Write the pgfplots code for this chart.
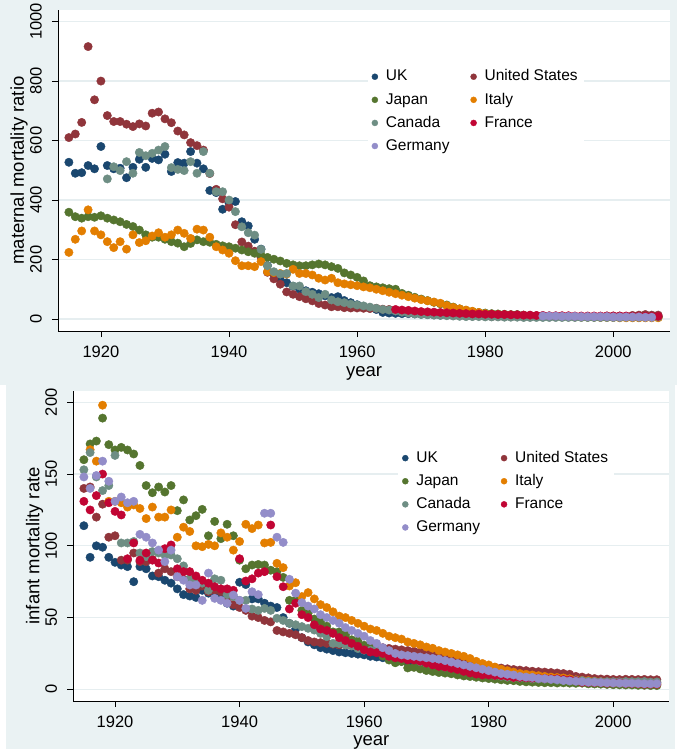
\documentclass[border=0pt]{standalone}
\usepackage{pgfplots}
\pgfplotsset{compat=1.18}
\usepackage{pgfplotstable}
\usepackage{fontspec}
\setmainfont{Liberation Sans}

\definecolor{bgc}{RGB}{234,242,243}
\definecolor{gridc}{RGB}{230,238,240}
\definecolor{cnavy}{RGB}{26,71,111}
\definecolor{cmaroon}{RGB}{144,53,59}
\definecolor{cgreen}{RGB}{85,117,47}
\definecolor{corange}{RGB}{227,126,0}
\definecolor{cteal}{RGB}{110,142,132}
\definecolor{ccran}{RGB}{193,5,52}
\definecolor{clav}{RGB}{147,141,201}

\pgfplotstableread{
year uk us jp it ca fr de
1915 527 610 359 224 nan nan nan
1916 490 622 344 268 nan nan nan
1917 492 661 339 296 nan nan nan
1918 516 916 344 367 nan nan nan
1919 505 737 342 296 nan nan nan
1920 580 800 347 283 nan nan nan
1921 516 684 339 260 471 nan nan
1922 505 664 333 240 512 nan nan
1923 507 664 327 260 499 nan nan
1924 475 655 318 235 529 nan nan
1925 510 647 311 283 490 nan nan
1926 537 656 299 257 560 nan nan
1927 510 649 283 263 549 nan nan
1928 540 692 275 279 557 nan nan
1929 535 696 275 290 568 nan nan
1930 554 673 268 275 580 nan nan
1931 496 660 260 283 509 nan nan
1932 526 632 255 299 503 nan nan
1933 524 619 243 288 499 nan nan
1934 563 593 254 271 529 nan nan
1935 524 583 266 302 490 nan nan
1936 505 568 260 299 563 nan nan
1937 432 489 258 275 490 nan nan
1938 425 436 251 243 428 nan nan
1939 369 404 246 232 428 nan nan
1940 390 376 243 221 400 nan nan
1941 395 317 238 196 361 nan nan
1942 327 259 232 179 310 nan nan
1943 313 245 226 179 290 nan nan
1944 268 228 221 176 282 nan nan
1945 235 207 215 193 234 nan nan
1946 180 157 207 159 179 nan nan
1947 150 135 201 156 159 nan nan
1948 132 117 195 153 151 nan nan
1949 122 91 187 151 153 nan nan
1950 110 83 182 167 111 nan nan
1951 100 75 179 153 111 nan nan
1952 95 68 179 153 92 nan nan
1953 90 61 182 148 83 nan nan
1954 85 52 185 137 72 nan nan
1955 78 47 182 131 83 nan nan
1956 72 41 176 137 64 nan nan
1957 75 41 170 122 58 nan nan
1958 62 38 155 118 55 nan nan
1959 55 37 148 115 50 nan nan
1960 48 37 140 112 47 nan nan
1961 42 36 128 108 44 nan nan
1962 38 35 112 105 40 nan nan
1963 32 36 108 100 36 nan nan
1964 22 33 105 95 32 nan nan
1965 20 32 102 90 30 nan nan
1966 19 29 100 85 27 32 nan
1967 18 28 86 80 23 30 nan
1968 18 25 80 75 20 29 nan
1969 17 22 73 70 17 27 nan
1970 16 22 67 65 15 25 nan
1971 15 19 62 61 14 24 nan
1972 14 19 56 57 13 23 nan
1973 13 15 51 53 12 22 nan
1974 13 15 47 45 11 21 nan
1975 12 13 40 39 10 20 nan
1976 12 12 34 34 9 19 nan
1977 11 11 29 30 8 18 nan
1978 11 10 25 26 8 17 nan
1979 11 10 22 22 8 17 nan
1980 10 9 20 18 7 16 nan
1981 10 8 18 16 7 16 nan
1982 10 8 17 15 7 15 nan
1983 9 8 16 14 6 15 nan
1984 9 8 15 13 6 14 nan
1985 9 8 15 12 6 14 nan
1986 9 7 13 11 5 13 nan
1987 9 7 12 10 5 13 nan
1988 9 8 11 9 5 12 nan
1989 8 8 10 9 5 12 10
1990 8 8 9 8 5 11 10
1991 8 8 9 8 5 11 10
1992 8 8 9 7 5 11 9
1993 8 8 8 7 5 11 9
1994 8 8 8 7 5 10 9
1995 8 7 7 6 5 10 8
1996 8 8 6 6 5 10 8
1997 7 8 6 6 5 10 8
1998 7 7 7 5 5 10 8
1999 7 10 6 5 5 10 8
2000 7 10 6 5 5 10 7
2001 7 10 6 4 5 10 7
2002 7 9 7 4 6 10 7
2003 7 12 6 4 6 9 7
2004 7 13 5 4 6 9 7
2005 7 15 5 4 6 9 6
2006 7 13 5 4 6 9 6
2007 7 13 6 4 7 9 nan
}\mmr

\pgfplotstableread{
year uk us jp it ca fr de
1915 114 140 160 nan 153 131 148
1916 92 141 171 167 165 125 140
1917 100 120 173 159 148 135 149
1918 99 129 189 198 138.5 150 159
1919 92 106 170.5 131 142 130 145
1920 88.5 107 166.8 131 163 124 131
1921 86.6 90 168.6 130 102 121.5 134
1922 85.5 90 166.8 127 102 91 130
1923 75 95 164 128.5 103 102 131
1924 85.5 89 156 126 95 90 108
1925 84 89 142 119 92.5 95 106
1926 79 90.6 137 127 96 90 102
1927 78.5 81 141 120 95 88 97
1928 76 84 137.5 120 93.6 98 89
1929 74 82 142 125 93.6 100.6 97
1930 70 78.5 124.5 106 91 84 78.5
1931 66 76.7 132 113 86 82 76
1932 65 70 118 110 77 82 72.7
1933 64 69 121 100 74 79 72.7
1934 69 72 125.4 99.4 74 76 62
1935 67 68 107 101 69 74 81
1936 66 69 117 100 77 71.5 63.4
1937 63 68 105 109 76 70 62
1938 60 62 115 106 66 70 60
1939 58 59 107 97 64.6 69 65.7
1940 74.6 57 90 103 62 91 62
1941 73 55 84 115 62 75.5 56.4
1942 63 51 86.6 112 56 77 68
1943 63 50 87 114.5 55 81 66
1944 60 48 86.6 102 56.4 82 122.7
1945 58 47 83 102.4 55 114.5 122.7
1946 57 41 82 87.8 49.5 78.5 106
1947 50 40 78 84.8 48 71.5 102.4
1948 46 39 62 72 46 56 76.7
1949 42 38 62 74.3 45 60 67
1950 36 36 55 64.6 43.7 52 60.4
1951 33 34 53 67.4 42.5 50 58
1952 31 33 49 63 41.3 45 56
1953 29 32.5 47 59 39 42 52
1954 28 32 44 57 36.7 41 50
1955 27 31.5 40 54 32 39 48
1956 26 31 40 51 31.9 36 46
1957 25.5 31 38 50 30.9 34 43
1958 25 30.5 34.5 48 30.2 32 41
1959 24.5 30.5 33.7 46 28.4 30 39
1960 24 30 30.7 44 27.3 27.5 37
1961 23 30 28.6 42 27.2 26 34
1962 22.5 29.5 26.4 41 27.6 25.5 32
1963 22 29 23.2 39 26.3 25 29
1964 21 28.5 20.4 37 24.7 23 27
1965 20 28 18.5 36 23.6 22 25
1966 19.6 27.5 19.3 35 23.1 21.5 24
1967 18.8 27 14.9 33 22 20.5 23.5
1968 18.8 26.5 15.3 32 20.8 20.4 23
1969 18.6 26 14.2 31 19.3 19.6 22.5
1970 18.5 25.5 13.1 29.5 18.8 18.2 22
1971 17.9 25 12.4 28.6 17.5 17 21.5
1972 17.5 24 11.7 27 17.1 16 21
1973 17.2 22.5 11.3 26 15.5 15.5 20
1974 16.8 21 10.8 25 15 14.6 19
1975 16 19.5 10 24 14.3 13.8 18
1976 14.5 18.5 9.3 23 13.5 12.5 17
1977 14.1 17.5 8.9 21.5 12.4 11.4 16
1978 13.3 16.8 8.4 19.5 12 10.6 15
1979 12.9 16.2 7.9 18 10.9 10 14
1980 12.1 15.8 7.5 17 10.4 10 13
1981 11.2 15.3 7.1 15.5 9.6 9.7 12
1982 11 14.8 6.6 14 9.1 9.5 11
1983 10.2 14.3 6.2 13 8.5 9.1 10.5
1984 9.6 13.8 6 12 8.1 8.3 10
1985 9.4 13.4 5.5 11 8 8.3 9
1986 9.5 13 5.2 10.5 7.9 8 8.5
1987 9.2 12.6 5 10 7.3 7.8 8.3
1988 9 12.3 4.8 9.5 7.2 7.8 7.6
1989 8.4 12 4.6 9 7.1 7.5 7.4
1990 7.9 11.7 4.6 8.5 6.8 7.3 7
1991 7.4 11.4 4.4 8.2 6.4 7.3 6.8
1992 6.6 11 4.5 7.9 6.1 6.8 6.2
1993 6.3 10.5 4.3 7.3 6.3 6.5 5.8
1994 6.2 9 4.2 6.6 6.3 5.9 5.6
1995 6.2 8.5 4.3 6.2 6.1 4.9 5.3
1996 6.1 8 3.8 6 5.6 4.8 5
1997 5.9 7.5 3.7 5.6 5.5 4.7 4.9
1998 5.7 7.2 3.6 5.3 5.3 4.6 4.7
1999 5.8 7.1 3.4 5 5.3 4.3 4.5
2000 5.6 6.9 3.2 4.6 5.3 4.4 4.4
2001 5.5 6.8 3.1 4.5 5.2 4.5 4.3
2002 5.2 7 3 4.4 5.4 4.1 4.2
2003 5.3 6.9 3 4.2 5.3 4 4.2
2004 5.1 6.8 2.8 4 5.3 3.9 4.1
2005 5.1 6.9 2.8 3.9 5.4 3.6 3.9
2006 5 6.7 2.6 3.8 5 3.6 3.8
2007 4.8 6.7 2.6 3.7 5.1 3.6 3.9
}\imr

\pgfplotsset{
  stata/.style={
    scale only axis, anchor=south west,
    axis x line*=bottom, axis y line*=left,
    axis line style={black, line width=0.8pt, -},
    tick align=outside, major tick length=6pt,
    tick style={black, line width=0.8pt},
    ymajorgrids, grid style={gridc, line width=1.3pt},
    xtick={1920,1940,1960,1980,2000},
    /pgf/number format/1000 sep={},
    /pgf/number format/assume math mode=true,
    tick label style={font=\fontsize{16.5}{18}\selectfont, inner sep=0pt, black},
    yticklabel style={rotate=90, anchor=south},
    xticklabel style={anchor=north},
    yticklabel shift=10pt,
    xticklabel shift=9pt,
    label style={font=\fontsize{18.5}{20}\selectfont, black},
    axis background/.style={fill=white},
    legend columns=2,
    legend cell align=left,
    legend style={draw=none, fill=white, inner sep=4pt,
      font=\fontsize{15.5}{18}\selectfont,
      anchor=north west, row sep=4.6pt,
      nodes={inner sep=2pt, text height=11.5pt, text depth=3pt},
      /tikz/every odd column/.append style={column sep=6pt},
      /tikz/every even column/.append style={column sep=19pt}},
    legend image code/.code={\draw[##1, mark size=3pt] plot coordinates {(0pt,0pt)};},
    legend entries={UK, United States, Japan, Italy, Canada, France, Germany},
  },
  mk/.style={only marks, mark=*, mark size=4.2pt, color=#1,
    mark options={draw=#1, fill=#1, line width=0.4pt}},
}

\begin{document}
\begin{tikzpicture}[x=1pt,y=1pt]
\useasboundingbox (0,0) rectangle (677,-749);
\fill[white] (0,0) rectangle (677,-749);
\fill[bgc] (0,0) rectangle (677,-385);
\fill[bgc] (6,-385) rectangle (675,-749);

\begin{axis}[stata, at={(58pt,-331pt)}, width=612pt, height=321pt,
  xmin=1913.3, xmax=2008.85, ymin=-40.4, ymax=1039,
  ytick={0,200,400,600,800,1000},
  xlabel={year}, ylabel={maternal mortality ratio},
  xlabel style={at={(axis description cs:0.5,-0.133)}, anchor=center},
  ylabel style={at={(axis description cs:-0.0637,0.5)}, anchor=center},
  legend style={at={(axis description cs:0.506,0.834)}},
]
\addplot[mk=cnavy] table[x=year,y=uk]{\mmr};
\addplot[mk=cmaroon] table[x=year,y=us]{\mmr};
\addplot[mk=cgreen] table[x=year,y=jp]{\mmr};
\addplot[mk=corange] table[x=year,y=it]{\mmr};
\addplot[mk=cteal] table[x=year,y=ca]{\mmr};
\addplot[mk=ccran] table[x=year,y=fr]{\mmr};
\addplot[mk=clav] table[x=year,y=de]{\mmr};
\end{axis}

\begin{axis}[stata, at={(73.3pt,-701pt)}, width=596pt, height=310.3pt,
  xmin=1913.3, xmax=2009.0, ymin=-8.15, ymax=208.1,
  ytick={0,50,100,150,200},
  xlabel={year}, ylabel={infant mortality rate},
  xlabel style={at={(axis description cs:0.5,-0.132)}, anchor=center},
  ylabel style={at={(axis description cs:-0.0651,0.5)}, anchor=center},
  legend style={at={(axis description cs:0.545,0.826)}},
]
\addplot[mk=cnavy] table[x=year,y=uk]{\imr};
\addplot[mk=cmaroon] table[x=year,y=us]{\imr};
\addplot[mk=cgreen] table[x=year,y=jp]{\imr};
\addplot[mk=corange] table[x=year,y=it]{\imr};
\addplot[mk=cteal] table[x=year,y=ca]{\imr};
\addplot[mk=ccran] table[x=year,y=fr]{\imr};
\addplot[mk=clav] table[x=year,y=de]{\imr};
\end{axis}
\end{tikzpicture}
\end{document}
